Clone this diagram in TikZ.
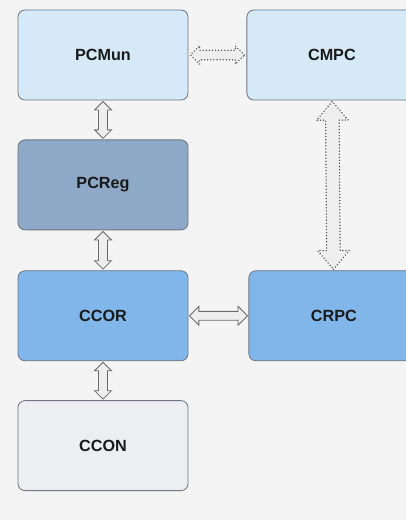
\documentclass[tikz,border=0pt]{standalone}
\usepackage{fontspec}
\setmainfont{Liberation Sans}
\usetikzlibrary{shapes.arrows,positioning}
\definecolor{bgc}{HTML}{F4F4F4}
\definecolor{linec}{HTML}{6E7885}
\definecolor{txtc}{HTML}{1A1A1A}
\definecolor{munc}{HTML}{D5E9F7}
\definecolor{regc}{HTML}{8EA8C8}
\definecolor{corc}{HTML}{80B6EA}
\definecolor{conc}{HTML}{ECEEF2}
\definecolor{arrc}{HTML}{6A6A6A}
\definecolor{arrf}{HTML}{EEEEEE}

\begin{document}
\begin{tikzpicture}[x=0.025cm,y=-0.025cm,
	block/.style={draw=linec, line width=0.6pt, rounded corners=5pt,
		minimum width=4.25cm, minimum height=2.25cm,
		font=\fontsize{11.5}{13}\selectfont\bfseries, text=txtc},
	link/.style={double arrow, draw=arrc, fill=arrf, line width=0.6pt,
		inner xsep=0pt, inner ysep=0.1cm, sloped, double arrow head extend=0.1cm},
	dlink/.style={link, line width=1.1pt, line cap=round,
		dash pattern=on 0pt off 2.2pt, draw=arrc!75!black}]
	  % Background and page frame
	  \fill[bgc] (0,0) rectangle (406,520);
	  \clip (0,0) rectangle (406,520);
	  % Left column
	  \node[block, fill=munc] (pcmun) at (103,55) {PCMun};
	  \node[block, fill=regc, below=0.975cm of pcmun] (pcreg) {PCReg};
	  \node[block, fill=corc, below=1cm of pcreg] (ccor) {CCOR};
	  \node[block, fill=conc, below=0.975cm of ccor] (ccon) {CCON};
	  % Right column
	  \node[block, fill=munc, right=1.45cm of pcmun] (cmpc) {CMPC};
	  \node[block, fill=corc, right=1.5cm of ccor] (crpc) {CRPC};
	  % Links
	  \path (pcmun) -- node[link, minimum height=0.92cm] (l1) {} (pcreg);
	  \path (pcreg) -- node[link, minimum height=0.94cm] (l2) {} (ccor);
	  \path (ccor) -- node[link, minimum height=0.92cm] (l3) {} (ccon);
	  \path (ccor) -- node[link, minimum height=1.45cm,
	      double arrow head extend=0.125cm] (l4) {} (crpc);
	  \path (pcmun) -- node[dlink, minimum height=1.35cm,
	      double arrow head extend=0.11cm] (l5) {} (cmpc);
	  \path (cmpc) -- node[dlink, minimum height=4.2cm, inner ysep=0.15cm,
	      double arrow head extend=0.225cm, double arrow tip angle=80] (l6) {} (crpc);
      \end{tikzpicture}
\end{document}
